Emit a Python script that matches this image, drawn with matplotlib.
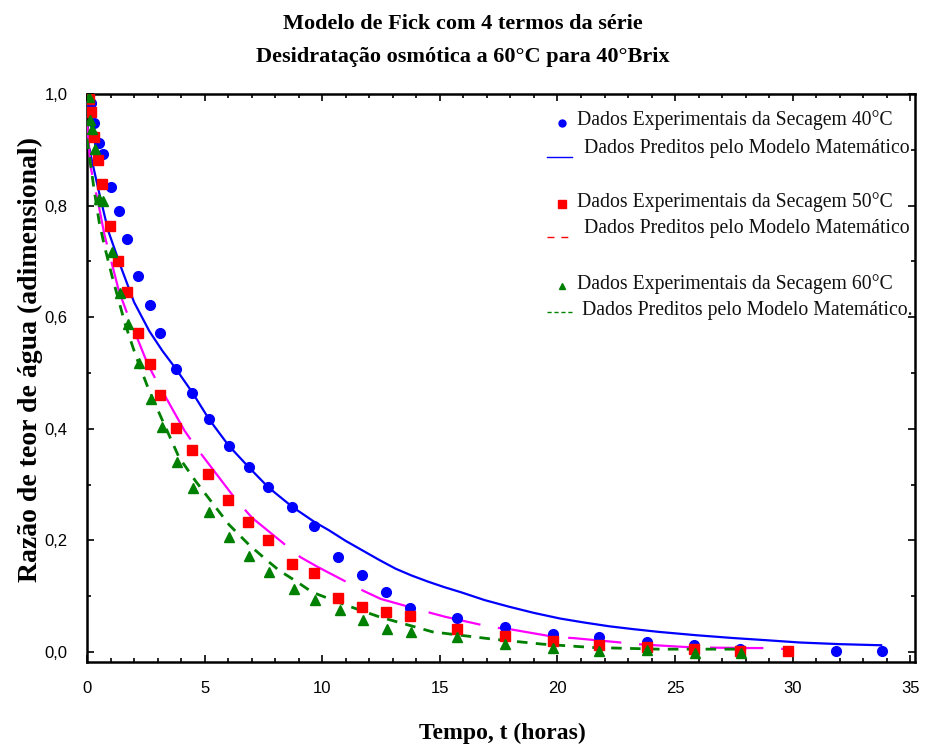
import matplotlib
matplotlib.use("Agg")
import matplotlib.pyplot as plt
from matplotlib.lines import Line2D
from matplotlib.ticker import MultipleLocator, FuncFormatter

# ---------------- data ----------------
t40 = [0.15, 0.31, 0.51, 0.68, 1.01, 1.34, 1.69, 2.18, 2.68, 3.10, 3.80, 4.48, 5.17,
       6.02, 6.87, 7.71, 8.73, 9.67, 10.69, 11.71, 12.73, 13.75, 15.71, 17.75, 19.79,
       21.75, 23.79, 25.82, 27.77, 31.85, 33.80]
y40 = [0.983, 0.948, 0.912, 0.893, 0.834, 0.791, 0.740, 0.673, 0.622, 0.572, 0.507,
       0.465, 0.417, 0.370, 0.331, 0.295, 0.260, 0.225, 0.170, 0.138, 0.107, 0.079,
       0.060, 0.044, 0.033, 0.026, 0.017, 0.013, 0.005, 0.001, 0.001]

t50 = [0.09, 0.18, 0.31, 0.48, 0.65, 0.99, 1.33, 1.69, 2.18, 2.68, 3.10, 3.80, 4.48,
       5.16, 6.01, 6.86, 7.71, 8.73, 9.67, 10.69, 11.71, 12.73, 13.75, 15.71, 17.75,
       19.79, 21.75, 23.80, 25.82, 27.77, 29.82]
y50 = [0.991, 0.967, 0.923, 0.881, 0.838, 0.763, 0.700, 0.645, 0.572, 0.516, 0.460,
       0.401, 0.362, 0.319, 0.272, 0.233, 0.201, 0.157, 0.142, 0.096, 0.080, 0.072,
       0.064, 0.041, 0.029, 0.020, 0.013, 0.008, 0.005, 0.002, 0.001]

t60 = [0.09, 0.13, 0.21, 0.35, 0.53, 0.68, 1.05, 1.39, 1.74, 2.22, 2.72, 3.20, 3.84,
       4.51, 5.20, 6.05, 6.90, 7.75, 8.79, 9.71, 10.75, 11.74, 12.76, 13.78, 15.74,
       17.78, 19.82, 21.78, 23.80, 25.86, 27.80]
y60 = [0.994, 0.954, 0.937, 0.901, 0.812, 0.809, 0.717, 0.643, 0.588, 0.518, 0.454,
       0.404, 0.341, 0.294, 0.250, 0.206, 0.172, 0.144, 0.113, 0.093, 0.076, 0.058,
       0.042, 0.035, 0.026, 0.014, 0.007, 0.002, 0.004, -0.001, -0.001]

# model curves
tm40 = [0.0, 0.08, 0.5, 0.9, 1.45, 2.0, 2.65, 3.2, 3.77, 4.48, 5.19, 6.02, 6.88, 7.71,
        8.73, 9.67, 10.29, 11.0, 11.71, 12.42, 13.13, 13.8, 14.5, 15.2, 15.9, 16.9,
        17.95, 19.0, 20.1, 21.1, 22.2, 23.2, 24.3, 25.9, 27.45, 28.9, 30.28, 32.0,
        33.76]
ym40 = [0.93, 0.905, 0.826, 0.755, 0.689, 0.627, 0.575, 0.540, 0.508, 0.465, 0.417,
        0.370, 0.331, 0.295, 0.260, 0.233, 0.218, 0.199, 0.182, 0.165, 0.149, 0.137,
        0.126, 0.116, 0.107, 0.093, 0.081, 0.070, 0.060, 0.053, 0.046, 0.041, 0.036,
        0.030, 0.025, 0.021, 0.017, 0.014, 0.012]

tm50 = [0.0, 0.16, 0.5, 0.74, 1.35, 1.66, 2.58, 2.89, 4.14, 4.65, 6.35, 7.03, 9.07,
        9.78, 11.78, 12.49, 14.52, 15.23, 17.24, 17.95, 20.00, 20.64, 22.67, 23.36,
        25.39, 26.10, 28.11, 28.83, 29.82]
ym50 = [0.95, 0.868, 0.800, 0.748, 0.648, 0.612, 0.516, 0.491, 0.397, 0.366, 0.272,
        0.240, 0.170, 0.153, 0.109, 0.095, 0.071, 0.063, 0.044, 0.041, 0.026, 0.025,
        0.017, 0.014, 0.009, 0.008, 0.007, 0.007, 0.005]

tm60 = [0.0, 0.06, 0.31, 0.52, 0.74, 1.08, 1.36, 1.62, 2.08, 2.58, 3.08, 3.91, 4.62,
        5.33, 6.04, 6.89, 7.60, 8.17, 8.88, 9.58, 11.00, 12.42, 14.69, 17.24, 19.37,
        21.49, 24.33, 28.02]
ym60 = [0.92, 0.902, 0.826, 0.770, 0.728, 0.671, 0.628, 0.588, 0.530, 0.475, 0.427,
        0.349, 0.306, 0.267, 0.228, 0.192, 0.166, 0.146, 0.127, 0.107, 0.084, 0.063,
        0.036, 0.023, 0.014, 0.008, 0.005, 0.005]

xticks = [0, 5, 10, 15, 20, 25, 30, 35]
yticks = [0.0, 0.2, 0.4, 0.6, 0.8, 1.0]

title_lines = ["Modelo de Fick com 4 termos da série",
               "Desidratação osmótica a 60°C para 40°Brix"]
xlabel = "Tempo, t (horas)"
ylabel = "Razão de teor de água (adimensional)"
legend_labels = ["Dados Experimentais da Secagem 40°C",
                 "Dados Preditos pelo Modelo Matemático",
                 "Dados Experimentais da Secagem 50°C",
                 "Dados Preditos pelo Modelo Matemático",
                 "Dados Experimentais da Secagem 60°C",
                 "Dados Preditos pelo Modelo Matemático."]

BLUE = "#0000FF"
RED = "#FF0000"
MAG = "#FF00FF"
GREEN = "#008000"
SERIF = ["Liberation Serif", "DejaVu Serif"]
SANS = ["Liberation Sans", "DejaVu Sans"]

W, H = 926, 747
fig = plt.figure(figsize=(W / 100, H / 100), dpi=100)
L, R, T, B = 87, 915, 94, 662
ax = fig.add_axes([L / W, 1 - B / H, (R - L) / W, (B - T) / H])

# model lines
ax.plot(tm40, ym40, color=BLUE, lw=1.6, zorder=3)
ax.plot(tm50, ym50, color=MAG, lw=1.6, dashes=(24, 8), zorder=3)
ax.plot(tm60, ym60, color=GREEN, lw=2.0, dashes=(3.8, 3.0), zorder=3)

# experimental points
ax.plot(t40, y40, "o", color=BLUE, ms=7, mec=BLUE, zorder=4)
ax.plot(t50, y50, "s", color=RED, ms=6.5, mec=RED, zorder=5)
ax.plot(t60, y60, "^", color=GREEN, ms=7.5, mec=GREEN, zorder=6)

ax.set_xlim(0, 35.2)
ax.set_ylim(-0.018, 1.0)
ax.set_xticks(xticks)
ax.set_yticks(yticks)
ax.xaxis.set_minor_locator(MultipleLocator(1))
ax.yaxis.set_minor_locator(MultipleLocator(0.1))
ax.yaxis.set_major_formatter(FuncFormatter(lambda v, p: f"{v:.1f}".replace(".", ",")))
ax.xaxis.set_major_formatter(FuncFormatter(lambda v, p: f"{int(round(v))}"))
ax.tick_params(which="both", direction="in", top=True, right=True, width=1.2,
               color="black")
ax.tick_params(which="major", length=5, pad=14, labelsize=12)
ax.tick_params(which="minor", length=3)
for lab in ax.get_xticklabels() + ax.get_yticklabels():
    lab.set_fontfamily(SANS)
for s in ax.spines.values():
    s.set_linewidth(1.8)
    s.set_color("black")

# titles / labels
fig.text(463 / W, 1 - 24 / H, title_lines[0], ha="center", va="center",
         fontsize=16, fontweight="bold", family=SERIF)
fig.text(463 / W, 1 - 57 / H, title_lines[1], ha="center", va="center",
         fontsize=16, fontweight="bold", family=SERIF)
fig.text(502 / W, 1 - 733 / H, xlabel, ha="center", va="center",
         fontsize=17, fontweight="bold", family=SERIF)
fig.text(30 / W, 1 - 360 / H, ylabel, ha="center", va="center", rotation=90,
         fontsize=20, fontweight="bold", family=SERIF)

# legend (drawn manually to mimic spacing)
def px2ax(px, py):
    return (px - L) / (R - L), (B - py) / (B - T)

tr = ax.transAxes
entries = [
    ("marker", dict(marker="o", color=BLUE, ms=5), 122.5, 120.5, 577),
    ("line", dict(color=BLUE, lw=1.0), 157, 148.5, 584),
    ("marker", dict(marker="s", color=RED, ms=5.5), 204, 202.5, 577),
    ("line", dict(color=RED, lw=1.0, dashes=(5, 5)), 236.5, 228.5, 584),
    ("marker", dict(marker="^", color=GREEN, ms=5), 286, 284.5, 577),
    ("line", dict(color=GREEN, lw=1.0, dashes=(3, 2)), 312, 310.5, 582),
]
for (kind, style, my, ty, tx), label in zip(entries, legend_labels):
    if kind == "marker":
        x0, y0 = px2ax(562, my)
        ax.add_line(Line2D([x0], [y0], transform=tr, linestyle="none",
                           mec=style["color"], mfc=style["color"],
                           marker=style["marker"], ms=style["ms"], clip_on=False))
    else:
        xa, ya = px2ax(547, my)
        xb, yb = px2ax(572, my)
        ax.add_line(Line2D([xa, xb], [ya, yb], transform=tr, clip_on=False, **style))
    xt, yt = px2ax(tx, ty)
    ax.text(xt, yt, label, transform=tr, ha="left", va="center",
            fontsize=14.2, family=SERIF, color="#111111")

fig.savefig("out.png", dpi=100)
